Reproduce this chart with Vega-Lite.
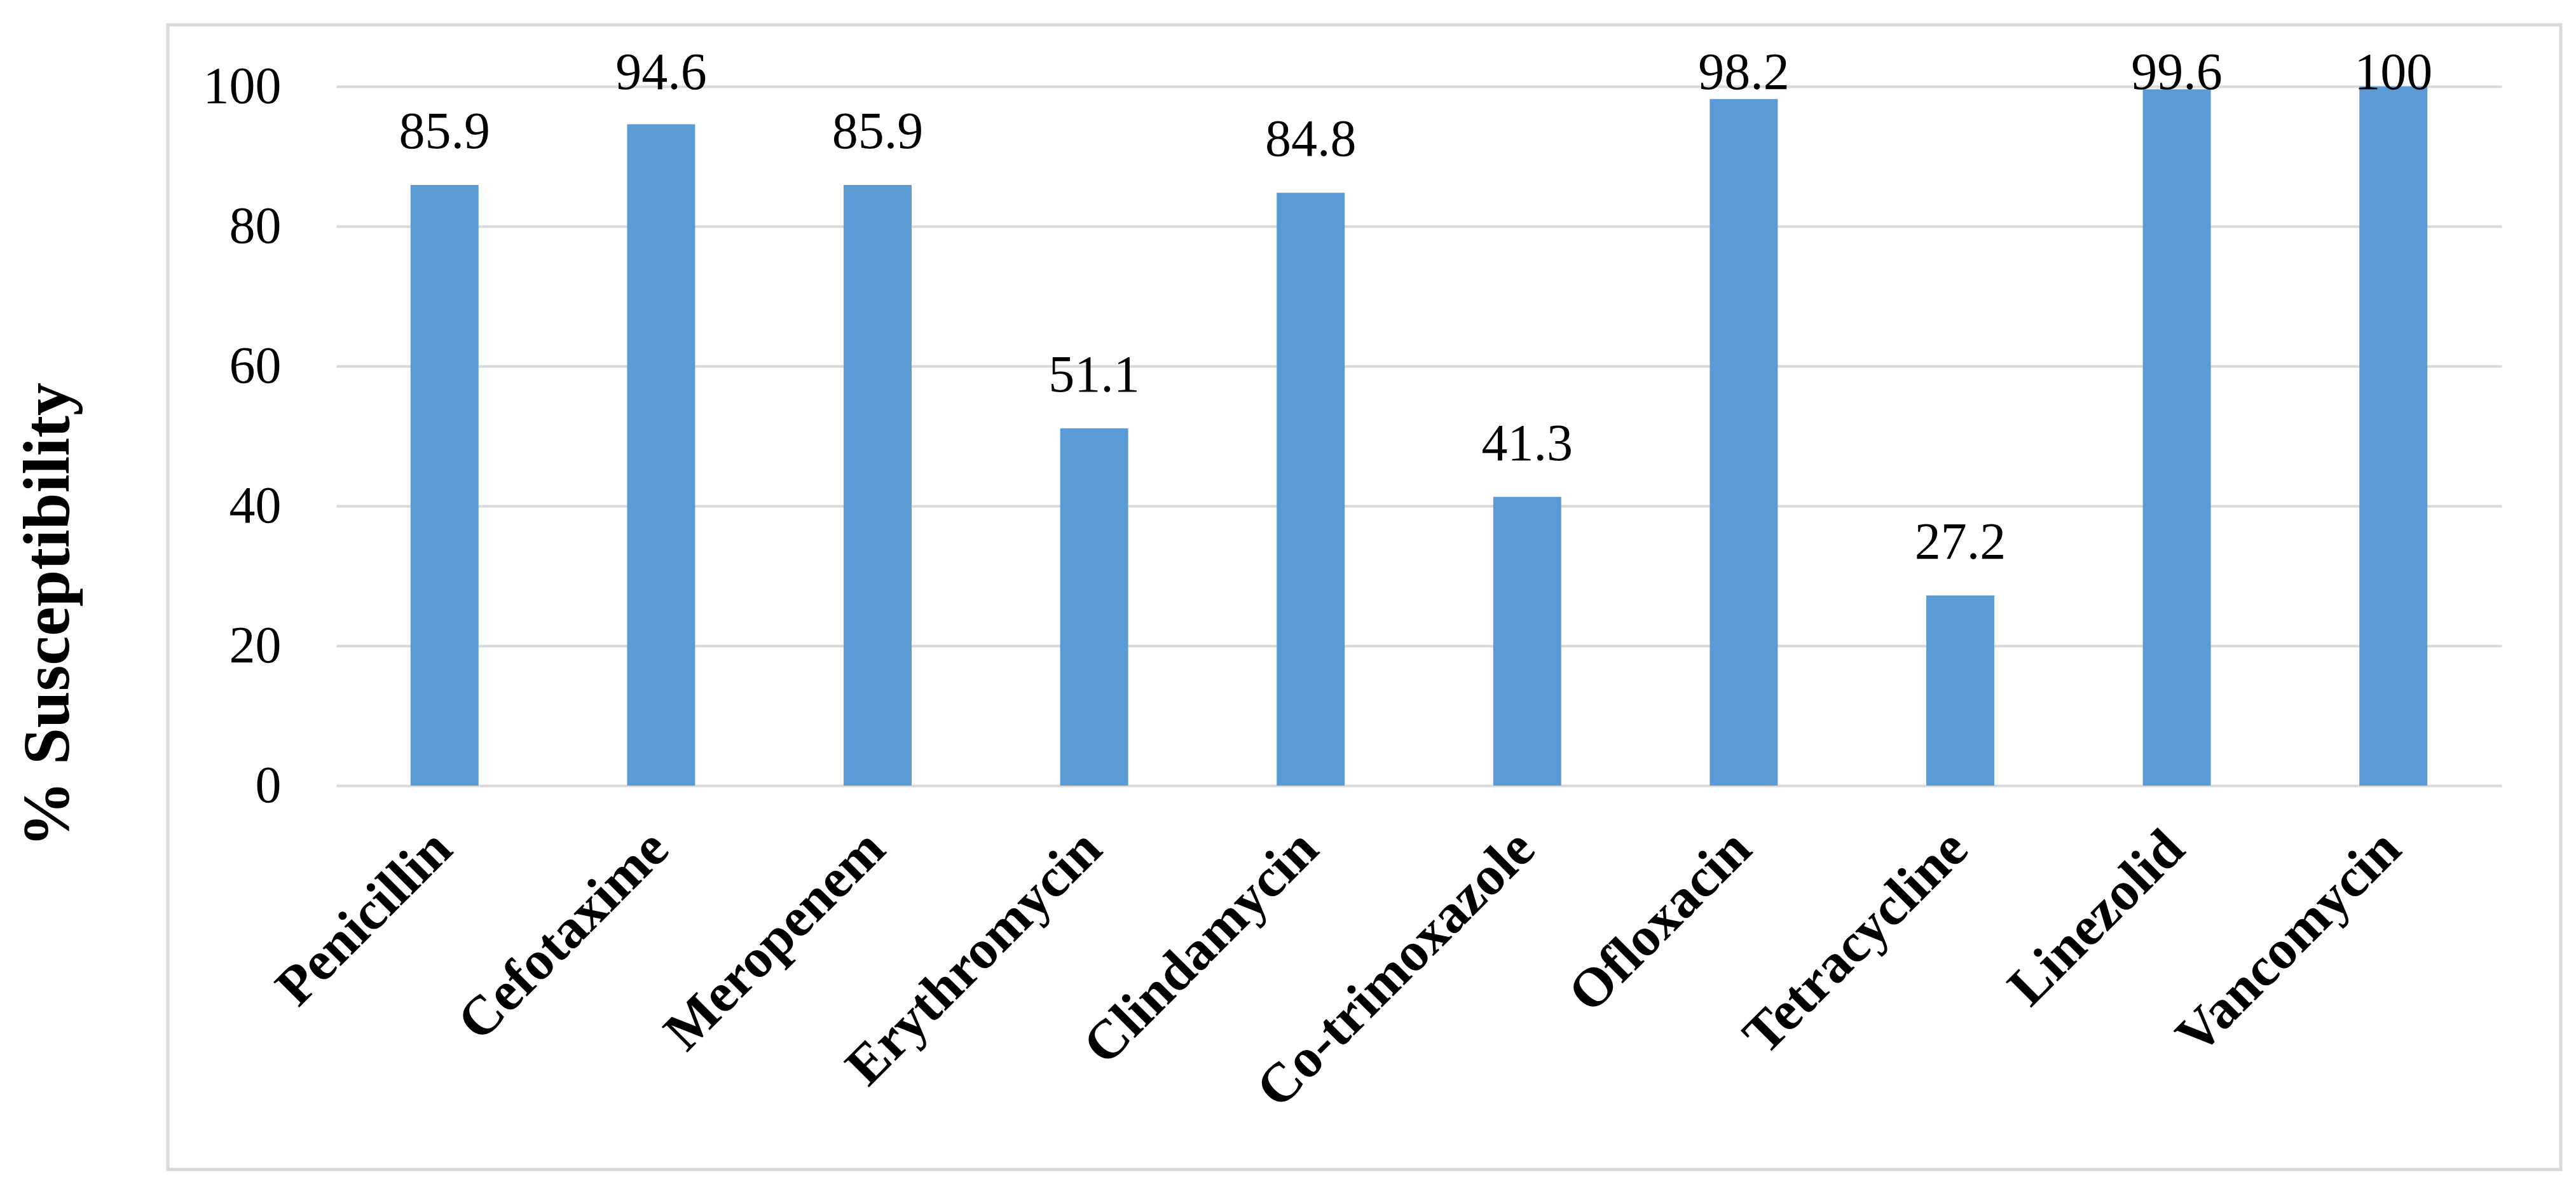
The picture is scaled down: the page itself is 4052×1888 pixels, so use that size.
{
  "$schema": "https://vega.github.io/schema/vega-lite/v6.json",
  "width": 3764,
  "height": 1801,
  "autosize": {"type": "none"},
  "padding": {"left": 264, "top": 39, "right": 24, "bottom": 48},
  "background": "white",
  "config": {
    "view": {"stroke": "#d9d9d9", "strokeWidth": 5},
    "font": "Liberation Serif"
  },
  "data": {
    "values": [
      {"antibiotic": "Penicillin", "susceptibility": 85.9},
      {"antibiotic": "Cefotaxime", "susceptibility": 94.6},
      {"antibiotic": "Meropenem", "susceptibility": 85.9},
      {"antibiotic": "Erythromycin", "susceptibility": 51.1},
      {"antibiotic": "Clindamycin", "susceptibility": 84.8},
      {"antibiotic": "Co-trimoxazole", "susceptibility": 41.3},
      {"antibiotic": "Ofloxacin", "susceptibility": 98.2},
      {"antibiotic": "Tetracycline", "susceptibility": 27.2},
      {"antibiotic": "Linezolid", "susceptibility": 99.6},
      {"antibiotic": "Vancomycin", "susceptibility": 100}
    ]
  },
  "encoding": {
    "x": {
      "field": "antibiotic",
      "type": "nominal",
      "sort": null,
      "scale": {"range": [265, 3671], "paddingInner": 0.686, "paddingOuter": 0.343},
      "axis": {
        "title": null,
        "offset": -604,
        "domain": false,
        "ticks": false,
        "labelAngle": -45,
        "labelAlign": "right",
        "labelBaseline": "alphabetic",
        "labelPadding": 104,
        "labelOffset": 16,
        "labelFont": "Liberation Serif",
        "labelFontWeight": "bold",
        "labelFontSize": 87,
        "labelColor": "#000000",
        "labelOverlap": false,
        "labelBound": false,
        "labelFlush": false,
        "labelLimit": 0
      }
    }
  },
  "layer": [
    {
      "mark": {"type": "bar", "color": "#5B9BD5"},
      "encoding": {
        "y": {
          "field": "susceptibility",
          "type": "quantitative",
          "scale": {"domain": [0, 100], "range": [1197, 97], "nice": false, "zero": true},
          "axis": {
            "title": "% Susceptibility",
            "offset": -265,
            "values": [0, 20, 40, 60, 80, 100],
            "domain": false,
            "ticks": false,
            "grid": true,
            "gridColor": "#d9d9d9",
            "gridWidth": 4,
            "labelFont": "Liberation Serif",
            "labelFontSize": 82,
            "labelColor": "#000000",
            "labelPadding": 87,
            "labelBaseline": "middle",
            "labelFlush": false,
            "labelBound": false,
            "titleFont": "Liberation Serif",
            "titleFontWeight": "bold",
            "titleFontSize": 104,
            "titleColor": "#000000",
            "titleAngle": 270,
            "titleAlign": "center",
            "titleBaseline": "alphabetic",
            "titleX": -422,
            "titleY": 928
          }
        }
      }
    },
    {
      "mark": {"type": "text", "baseline": "alphabetic", "align": "center", "dy": -58, "font": "Liberation Serif", "fontSize": 82, "color": "#000000"},
      "encoding": {
        "y": {
          "field": "susceptibility",
          "type": "quantitative",
          "scale": {"domain": [0, 94.36], "range": [1197, 159], "nice": false, "zero": true, "clamp": true},
          "axis": null
        },
        "text": {"field": "susceptibility", "type": "quantitative"}
      }
    }
  ],
  "resolve": {"scale": {"y": "independent"}}
}
